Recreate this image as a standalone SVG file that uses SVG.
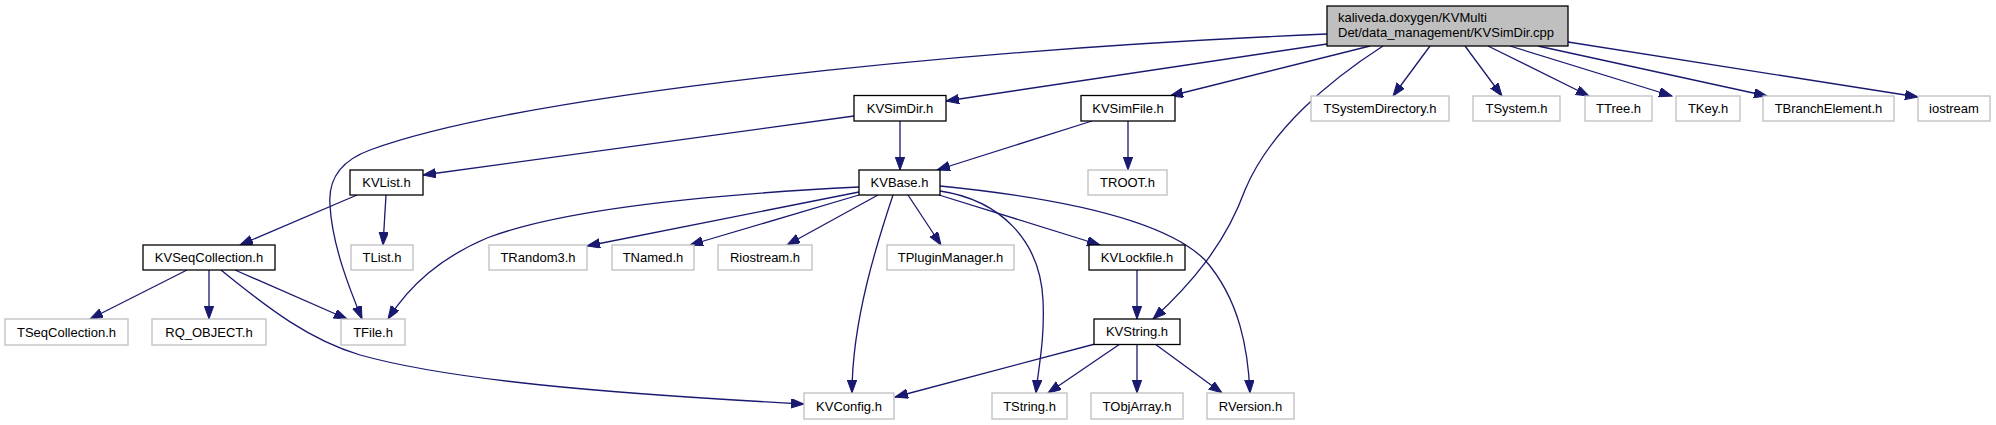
<svg xmlns="http://www.w3.org/2000/svg" width="1996" height="425" viewBox="0 0 1996 425">
<defs>
<marker id="ah" markerUnits="userSpaceOnUse" markerWidth="14" markerHeight="10" refX="13" refY="4.7" orient="auto">
<path d="M0,0 L13,4.7 L0,9.4 z" fill="#191970" stroke="#191970" stroke-width="1"/>
</marker>
<style>
.n rect{fill:#ffffff;stroke:#000000;stroke-width:1.3}
.g rect{fill:#ffffff;stroke:#bfbfbf;stroke-width:1.3}
.m rect{fill:#bfbfbf;stroke:#000000;stroke-width:1.3}
text{font-family:"Liberation Sans",Arial,Helvetica,sans-serif;font-size:13px;fill:#000000}
.c text{text-anchor:middle}
#edges path{fill:none;stroke:#191970;stroke-width:1.3;marker-end:url(#ah)}
</style>
</defs>
<rect width="1996" height="425" fill="#ffffff"/>
<g id="edges">
<path d="M1327,34 C950,50 520,95 370,150 C340,161 328,180 330,205 C332,245 350,290 362,319"/>
<path d="M1327,44 L946,101"/>
<path d="M1370,46 L1170,96"/>
<path d="M1383,46 C1330,80 1270,130 1245,190 C1225,245 1190,285 1153,319"/>
<path d="M1430,46 L1393,96"/>
<path d="M1465,46 L1502,96"/>
<path d="M1488,46 L1589,96"/>
<path d="M1510,46 L1672,96"/>
<path d="M1538,46 L1767,96"/>
<path d="M1568,42 L1918,97"/>
<path d="M900,121 L900,170"/>
<path d="M854,116 L423,175"/>
<path d="M1092,121 L937,170"/>
<path d="M1128,121 L1128,170"/>
<path d="M386,195 L383,245"/>
<path d="M357,195 L240,245"/>
<path d="M187,270 L90,319"/>
<path d="M209,270 L209,319"/>
<path d="M235,270 L347,319"/>
<path d="M221,270 C270,310 310,340 360,355 C450,380 600,393 804,404"/>
<path d="M859,187 C700,195 560,210 487,238 C440,258 410,285 388,319"/>
<path d="M859,192 L587,246"/>
<path d="M859,195 L690,245"/>
<path d="M878,195 L787,245"/>
<path d="M908,195 L941,245"/>
<path d="M893,195 C878,240 852,320 852,393"/>
<path d="M939,195 L1100,245"/>
<path d="M940,191 C1000,200 1040,240 1043,300 C1045,340 1038,370 1036,393"/>
<path d="M940,186 C1080,200 1170,225 1205,260 C1240,300 1248,350 1250,393"/>
<path d="M1137,270 L1137,319"/>
<path d="M1095,344 L895,397"/>
<path d="M1120,344 L1048,393"/>
<path d="M1137,344 L1137,393"/>
<path d="M1155,344 L1222,393"/>
</g>
<g id="main" class="m"><rect x="1327" y="6" width="241" height="40"/><text x="1338" y="22">kaliveda.doxygen/KVMulti</text><text x="1338" y="37">Det/data_management/KVSimDir.cpp</text></g>
<g id="KVSimDir" class="n c"><rect x="854" y="95.5" width="92" height="25.5"/><text x="900" y="112.5">KVSimDir.h</text></g>
<g id="KVSimFile" class="n c"><rect x="1081" y="95.5" width="94" height="25.5"/><text x="1128" y="112.5">KVSimFile.h</text></g>
<g id="TSystemDirectory" class="g c"><rect x="1311" y="96" width="138" height="25"/><text x="1380" y="113">TSystemDirectory.h</text></g>
<g id="TSystem" class="g c"><rect x="1473" y="96" width="87" height="25"/><text x="1516.5" y="113">TSystem.h</text></g>
<g id="TTree" class="g c"><rect x="1585" y="96" width="67" height="25"/><text x="1618.5" y="113">TTree.h</text></g>
<g id="TKey" class="g c"><rect x="1676" y="96" width="64" height="25"/><text x="1708" y="113">TKey.h</text></g>
<g id="TBranchElement" class="g c"><rect x="1763" y="96" width="131" height="25"/><text x="1828.5" y="113">TBranchElement.h</text></g>
<g id="iostream" class="g c"><rect x="1918" y="96" width="72" height="25"/><text x="1954" y="113">iostream</text></g>
<g id="KVList" class="n c"><rect x="350" y="170" width="73" height="25"/><text x="386.5" y="187">KVList.h</text></g>
<g id="KVBase" class="n c"><rect x="859" y="170" width="81" height="25"/><text x="899.5" y="187">KVBase.h</text></g>
<g id="TROOT" class="g c"><rect x="1088" y="170" width="79" height="25"/><text x="1127.5" y="187">TROOT.h</text></g>
<g id="KVSeqCollection" class="n c"><rect x="143" y="245" width="132" height="25"/><text x="209" y="262">KVSeqCollection.h</text></g>
<g id="TList" class="g c"><rect x="351" y="245" width="62" height="25"/><text x="382" y="262">TList.h</text></g>
<g id="TRandom3" class="g c"><rect x="489" y="245" width="98" height="25"/><text x="538" y="262">TRandom3.h</text></g>
<g id="TNamed" class="g c"><rect x="612" y="245" width="82" height="25"/><text x="653" y="262">TNamed.h</text></g>
<g id="Riostream" class="g c"><rect x="718" y="245" width="94" height="25"/><text x="765" y="262">Riostream.h</text></g>
<g id="TPluginManager" class="g c"><rect x="887" y="245" width="127" height="25"/><text x="950.5" y="262">TPluginManager.h</text></g>
<g id="KVLockfile" class="n c"><rect x="1089" y="245" width="96" height="25"/><text x="1137" y="262">KVLockfile.h</text></g>
<g id="TSeqCollection" class="g c"><rect x="5" y="319" width="123" height="26"/><text x="66.5" y="336.5">TSeqCollection.h</text></g>
<g id="RQ_OBJECT" class="g c"><rect x="152" y="319" width="114" height="26"/><text x="209" y="336.5">RQ_OBJECT.h</text></g>
<g id="TFile" class="g c"><rect x="341" y="319" width="64" height="26"/><text x="373" y="336.5">TFile.h</text></g>
<g id="KVString" class="n c"><rect x="1094" y="319" width="86" height="25.5"/><text x="1137" y="336">KVString.h</text></g>
<g id="KVConfig" class="g c"><rect x="804" y="393" width="90" height="26"/><text x="849" y="410.5">KVConfig.h</text></g>
<g id="TString" class="g c"><rect x="992" y="393" width="75" height="26"/><text x="1029.5" y="410.5">TString.h</text></g>
<g id="TObjArray" class="g c"><rect x="1091" y="393" width="92" height="26"/><text x="1137" y="410.5">TObjArray.h</text></g>
<g id="RVersion" class="g c"><rect x="1207" y="393" width="87" height="26"/><text x="1250.5" y="410.5">RVersion.h</text></g>
</svg>
